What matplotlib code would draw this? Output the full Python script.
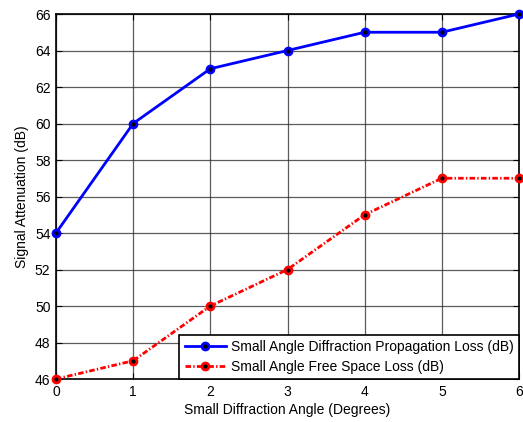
import matplotlib
matplotlib.use("Agg")
import matplotlib.pyplot as plt

plt.rcParams['font.family'] = ['Liberation Sans', 'DejaVu Sans']

angles = [0, 1, 2, 3, 4, 5, 6]
diffraction_loss = [54, 60, 63, 64, 65, 65, 66]
free_space_loss = [46, 47, 50, 52, 55, 57, 57]
y_ticks = [46, 48, 50, 52, 54, 56, 58, 60, 62, 64, 66]

fig = plt.figure(figsize=(5.23, 4.22), dpi=100)
ax = fig.add_axes([56 / 523, 1 - 379 / 422, (519 - 56) / 523, (379 - 14) / 422])

ax.plot(angles, diffraction_loss, color='blue', lw=2, marker='o', ms=5,
        mfc='black', mec='blue', mew=2, clip_on=False, zorder=5,
        label='Small Angle Diffraction Propagation Loss (dB)')
ax.plot(angles, free_space_loss, color='red', lw=2, ls=(0, (2, 0.8, 0.5, 0.8)),
        marker='o', ms=5, mfc='black', mec='red', mew=2, clip_on=False, zorder=5,
        label='Small Angle Free Space Loss (dB)')

ax.set_xlim(0, 6)
ax.set_ylim(46, 66)
ax.set_xticks(angles)
ax.set_yticks(y_ticks)
ax.grid(True, color='#333333', lw=0.9, alpha=0.8)
ax.tick_params(direction='in', top=True, right=True, labelsize=10, length=4, pad=4)
for s in ax.spines.values():
    s.set_linewidth(1.2)

ax.set_xlabel('Small Diffraction Angle (Degrees)', fontsize=10, labelpad=3)
ax.set_ylabel('Signal Attenuation (dB)', fontsize=10, labelpad=4)

leg = ax.legend(loc='lower right', fontsize=10, fancybox=False, edgecolor='black',
                framealpha=1, borderaxespad=0, handlelength=3.0, handletextpad=0.35,
                borderpad=0.37, labelspacing=0.4)
leg.get_frame().set_linewidth(1.2)

fig.savefig('out.png', dpi=100)
